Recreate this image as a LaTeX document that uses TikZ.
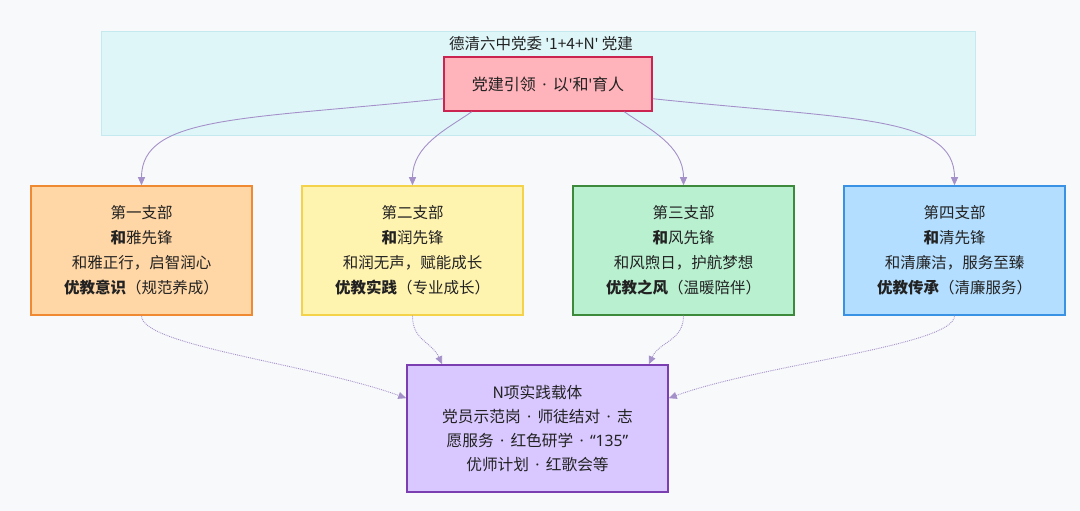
\documentclass[tikz,border=0pt]{standalone}
\usepackage{fontspec}
\newfontfamily\cjk{Noto Sans CJK SC}
\newfontfamily\latin{Noto Sans}
\usetikzlibrary{arrows.meta}

\definecolor{pagebg}{HTML}{F8F9FB}
\definecolor{clusterfill}{HTML}{DFF6F9}
\definecolor{clusterline}{HTML}{C4EAF0}
\definecolor{topfill}{HTML}{FFB3BA}
\definecolor{topline}{HTML}{CC2450}
\definecolor{onefill}{HTML}{FFD6A5}
\definecolor{oneline}{HTML}{EF8A33}
\definecolor{twofill}{HTML}{FFF3B0}
\definecolor{twoline}{HTML}{F4D24A}
\definecolor{threefill}{HTML}{B8F0D0}
\definecolor{threeline}{HTML}{3D8A3D}
\definecolor{fourfill}{HTML}{B3DEFF}
\definecolor{fourline}{HTML}{3A92E4}
\definecolor{nfill}{HTML}{D9C8FF}
\definecolor{nline}{HTML}{7C3FB2}
\definecolor{linkcol}{HTML}{A591C9}
\definecolor{textcol}{HTML}{222222}

\newcommand\mdot{\hspace{0.4em}{\latin ·}\hspace{0.4em}}
\newcommand\apos{{\latin '}}

\begin{document}
\begin{tikzpicture}[x=1pt,y=1pt,
  box/.style={draw,line width=1.5pt,align=center,inner sep=0pt,text=textcol,
    font=\cjk\fontsize{15.5}{25}\selectfont},
  branch/.style={box,minimum width=221pt,minimum height=129pt},
  link/.style={draw=linkcol,line width=0.9pt,-{Triangle[length=8pt,width=7pt]}},
  carrier/.style={link,densely dotted}]
% background and cluster
\fill[pagebg] (0,0) rectangle (1080,511);
\draw[clusterline,fill=clusterfill] (101,376) rectangle (975,480);
\node[text=textcol,font=\cjk\fontsize{15.5}{18}\selectfont] (title) at (541,467)
  {德清六中党委 \apos1+4+N\apos{} 党建};

\node[box,fill=topfill,draw=topline,minimum width=208pt,minimum height=54pt,
  font=\cjk\fontsize{16}{20}\selectfont] (lead) at (548,427)
  {党建引领\mdot 以\apos 和\apos 育人};

% four branches
\node[branch,fill=onefill,draw=oneline] (b1) at (141.5,260.5)
  {第一支部\\\textbf{和}雅先锋\\和雅正行，启智润心\\\textbf{优教意识}（规范养成）};
\node[branch,fill=twofill,draw=twoline] (b2) at (412.5,260.5)
  {第二支部\\\textbf{和}润先锋\\和润无声，赋能成长\\\textbf{优教实践}（专业成长）};
\node[branch,fill=threefill,draw=threeline] (b3) at (683.5,260.5)
  {第三支部\\\textbf{和}风先锋\\和风煦日，护航梦想\\\textbf{优教之风}（温暖陪伴）};
\node[branch,fill=fourfill,draw=fourline] (b4) at (954.5,260.5)
  {第四支部\\\textbf{和}清先锋\\和清廉洁，服务至臻\\\textbf{优教传承}（清廉服务）};

\node[box,fill=nfill,draw=nline,minimum width=261pt,minimum height=127pt,
  font=\cjk\fontsize{15.7}{24}\selectfont] (carrier) at (537.5,82.5)
  {N项实践载体\\党员示范岗\mdot 师徒结对\mdot 志\\愿服务\mdot 红色研学\mdot{\latin “135”}\\优师计划\mdot 红歌会等};

\path
(lead.188) edge[link,out=186,in=90,out distance=200pt,in distance=70pt] (b1.north)
(lead.200) edge[link,out=215,in=90,out distance=30pt,in distance=40pt]  (b2.north)
(lead.340) edge[link,out=-35,in=90,out distance=30pt,in distance=40pt]  (b3.north)
(lead.352) edge[link,out=-6,in=90,out distance=200pt,in distance=70pt]  (b4.north)
;
\path
(b1.south) edge[carrier,out=-90,in=160,out distance=30pt,in distance=100pt] (carrier.167)
(b2.south) edge[carrier,out=-90,in=115,out distance=25pt,in distance=25pt]  (carrier.146)
(b3.south) edge[carrier,out=-90,in=65,out distance=25pt,in distance=25pt]   (carrier.30)
(b4.south) edge[carrier,out=-90,in=20,out distance=30pt,in distance=100pt]  (carrier.13)
;
\end{tikzpicture}
\end{document}
